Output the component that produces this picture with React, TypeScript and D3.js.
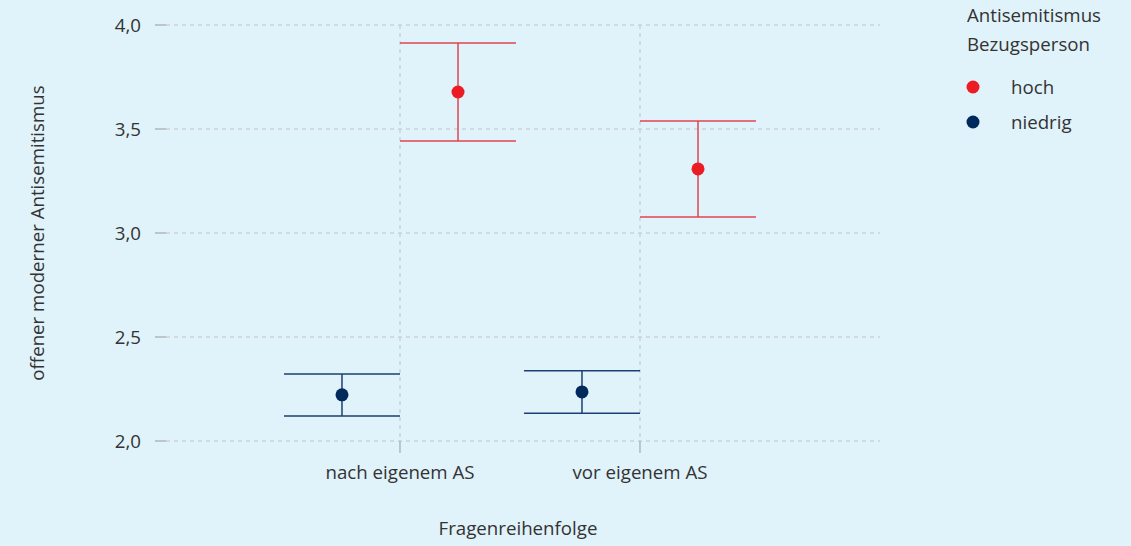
import React from "react";
import * as d3 from "d3";

const categories = ["nach eigenem AS", "vor eigenem AS"];
const groups = ["hoch", "niedrig"];
const hochMean = [3.678, 3.308];
const hochLow = [3.442, 3.077];
const hochHigh = [3.913, 3.538];
const niedrigMean = [2.222, 2.236];
const niedrigLow = [2.12, 2.133];
const niedrigHigh = [2.322, 2.338];
const yTicks = [2.0, 2.5, 3.0, 3.5, 4.0];

const W = 1131;
const H = 546;
const FONT = "'Open Sans', 'Noto Sans', sans-serif";
const FS = 18.7;
const TEXT = "#333333";
const GRID = "#c2c2c2";

export default function App() {
  const x = d3.scalePoint<string>().domain(categories).range([160, 880]).padding(1);
  const y = d3.scaleLinear().domain([2, 4]).range([441, 25]);
  const step = x.step();
  const dodge = step * 0.2417;
  const capHalf = step * 0.2417;

  const series = [
    { name: groups[0], mean: hochMean, lo: hochLow, hi: hochHigh, point: "#ec1c24", line: "#e04452", off: dodge },
    { name: groups[1], mean: niedrigMean, lo: niedrigLow, hi: niedrigHigh, point: "#00295c", line: "#1d3f72", off: -dodge },
  ];

  return (
    <svg width={W} height={H} style={{ position: "absolute", left: 0, top: 0, background: "#e0f2fa" }}>
      <rect x={0} y={0} width={W} height={H} fill="#e0f2fa" />
      {yTicks.map((t) => (
        <g key={t}>
          <line x1={155} x2={166} y1={y(t)} y2={y(t)} stroke="#999" strokeWidth={1} />
          <line x1={166} x2={880} y1={y(t)} y2={y(t)} stroke={GRID} strokeWidth={1} strokeDasharray="4,4" />
          <text x={141} y={y(t)} dy="0.35em" textAnchor="end" fontFamily={FONT} fontSize={FS} fill={TEXT}>
            {d3.format(".1f")(t).replace(".", ",")}
          </text>
        </g>
      ))}
      {categories.map((c) => (
        <g key={c}>
          <line x1={x(c)} x2={x(c)} y1={25} y2={441} stroke={GRID} strokeWidth={1} strokeDasharray="4,4" />
          <line x1={x(c)} x2={x(c)} y1={441} y2={453} stroke="#999" strokeWidth={1} />
          <text x={x(c)} y={479} textAnchor="middle" fontFamily={FONT} fontSize={FS} fill={TEXT}>
            {c}
          </text>
        </g>
      ))}
      {series.map((s) =>
        categories.map((c, i) => {
          const cx = (x(c) as number) + s.off;
          return (
            <g key={s.name + c}>
              <line x1={cx} x2={cx} y1={y(s.lo[i])} y2={y(s.hi[i])} stroke={s.line} strokeWidth={1.5} />
              <line x1={cx - capHalf} x2={cx + capHalf} y1={y(s.lo[i])} y2={y(s.lo[i])} stroke={s.line} strokeWidth={1.5} />
              <line x1={cx - capHalf} x2={cx + capHalf} y1={y(s.hi[i])} y2={y(s.hi[i])} stroke={s.line} strokeWidth={1.5} />
              <circle cx={cx} cy={y(s.mean[i])} r={6.5} fill={s.point} />
            </g>
          );
        })
      )}
      <text
        transform={`translate(44,233) rotate(-90)`}
        textAnchor="middle"
        fontFamily={FONT}
        fontSize={FS}
        fill={TEXT}
      >
        offener moderner Antisemitismus
      </text>
      <text x={518} y={535} textAnchor="middle" fontFamily={FONT} fontSize={FS} fill={TEXT}>
        Fragenreihenfolge
      </text>
      <text x={967} y={22} fontFamily={FONT} fontSize={FS} fill={TEXT}>Antisemitismus</text>
      <text x={967} y={51} fontFamily={FONT} fontSize={FS} fill={TEXT}>Bezugsperson</text>
      {series.map((s, i) => (
        <g key={s.name}>
          <circle cx={973} cy={87 + i * 35} r={6.5} fill={s.point} />
          <text x={1011} y={87 + i * 35} dy="0.35em" fontFamily={FONT} fontSize={FS} fill={TEXT}>
            {s.name}
          </text>
        </g>
      ))}
    </svg>
  );
}
